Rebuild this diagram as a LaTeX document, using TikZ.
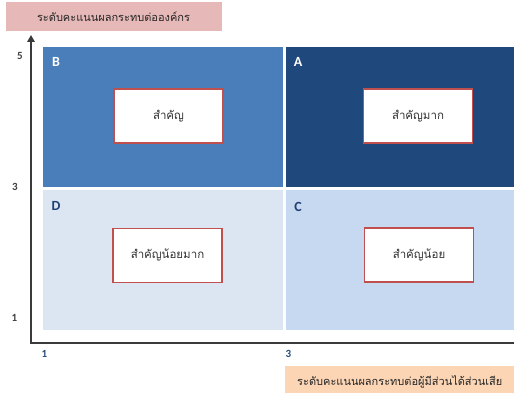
\documentclass[tikz,border=0pt]{standalone}
\usepackage{fontspec}
\setmainfont{Carlito}
\newfontfamily\thaifont[Script=Thai]{Loma}
\usetikzlibrary{arrows.meta}

\definecolor{qB}{HTML}{4A7EBB}
\definecolor{qA}{HTML}{1F497D}
\definecolor{qD}{HTML}{DCE6F2}
\definecolor{qC}{HTML}{C6D9F1}
\definecolor{letterdark}{HTML}{1F3F73}
\definecolor{boxred}{HTML}{C0504D}
\definecolor{pinklabel}{HTML}{E6B9B8}
\definecolor{peachlabel}{HTML}{FCD5B5}
\definecolor{axisgray}{HTML}{3A3A3A}
\definecolor{ticknum}{HTML}{404040}
\definecolor{ticknumx}{HTML}{2B4C7E}

\tikzset{
  quad/.style={draw=none, rectangle, inner sep=0pt, anchor=north west,
    minimum width=#1},
  quad/.default=240pt,
  letter/.style={font=\fontsize{14}{16}\selectfont\bfseries, inner sep=0pt},
  levelbox/.style={draw=boxred, line width=1.4pt, fill=white, rectangle,
    minimum width=109pt, minimum height=54pt, inner sep=0pt,
    font=\thaifont\fontsize{11.5}{13}\selectfont, text=black!80},
  axislabel/.style={draw=none, rectangle, inner sep=0pt,
    font=\thaifont\fontsize{11}{13}\selectfont, text=black!85},
  axisline/.style={draw=axisgray, line width=2.4pt},
  tick/.style={font=\fontsize{11}{13}\selectfont\bfseries, inner sep=0pt}
}

\begin{document}
\begin{tikzpicture}[x=1pt, y=-1pt]
  \useasboundingbox (0,0) rectangle (514,393);

  % axis titles
  \node[axislabel, fill=pinklabel, minimum width=216pt, minimum height=29pt]
    (ytitle) at (113.5,16.5) {ระดับคะแนนผลกระทบต่อองค์กร};
  \node[axislabel, fill=peachlabel, minimum width=240pt, minimum height=30pt,
    anchor=north west] (xbox) at (285,366) {};
  \node[axislabel, anchor=west] (xtitle) at (297,382)
    {ระดับคะแนนผลกระทบต่อผู้มีส่วนได้ส่วนเสีย};

  % quadrants
  \node[quad, fill=qB, minimum height=140pt] (B) at (43,47) {};
  \node[quad=232pt, fill=qA, minimum height=140pt] (A) at (286,47) {};
  \node[quad, fill=qD, minimum height=140pt] (D) at (43,190) {};
  \node[quad=232pt, fill=qC, minimum height=140pt] (C) at (286,190) {};

  % quadrant letters
  \node[letter, text=white] (lB) at (56,62) {B};
  \node[letter, text=white] (lA) at (298,62) {A};
  \node[letter, text=letterdark] (lD) at (56,206) {D};
  \node[letter, text=letterdark] (lC) at (298,207) {C};

  % importance boxes
  \node[levelbox] (kB) at (168.5,116) {สำคัญ};
  \node[levelbox] (kA) at (418,116) {สำคัญมาก};
  \node[levelbox] (kD) at (167.5,255.5) {สำคัญน้อยมาก};
  \node[levelbox] (kC) at (419,255) {สำคัญน้อย};

  % axes
  \coordinate (ytip) at (31,35);
  \coordinate (origin) at (31,343);
  \coordinate (xend) at (518,343);
  \draw[axisline, {Triangle[length=7pt,width=7.5pt]}-] (ytip) -- (origin) -- (xend);

  % scale numbers
  \node[tick, text=ticknum] (y5) at (20,56) {5};
  \node[tick, text=ticknum] (y3) at (15,186.5) {3};
  \node[tick, text=ticknum] (y1) at (14.5,317.5) {1};
  \node[tick, text=ticknumx] (x1) at (44.5,354) {1};
  \node[tick, text=ticknumx] (x3) at (288.5,354) {3};
\end{tikzpicture}
\end{document}
